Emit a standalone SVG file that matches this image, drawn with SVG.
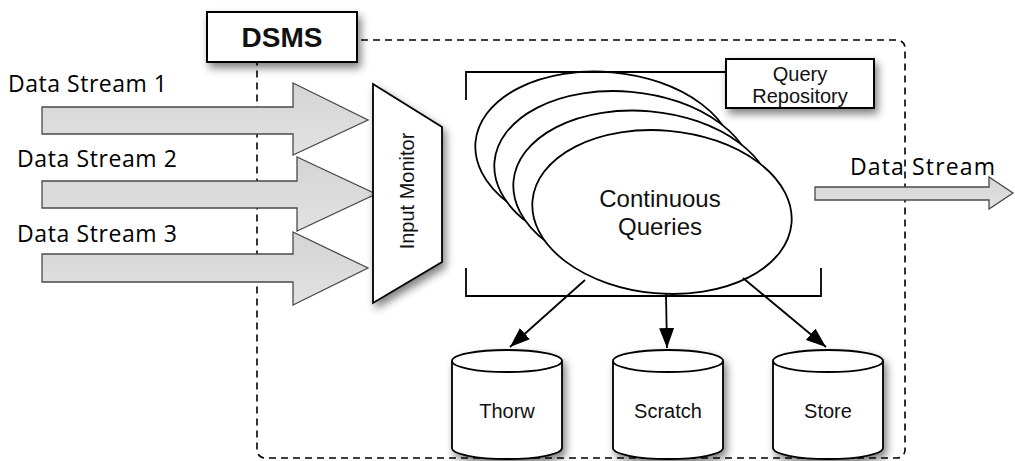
<svg xmlns="http://www.w3.org/2000/svg" width="1015" height="461" viewBox="0 0 1015 461">
  <defs>
    <style>
      .stream { fill: url(#streamFill); stroke: #4a4a4a; stroke-width: 1.3; stroke-linejoin: miter; }
      .slabel { font-family: "Open Sans", "Noto Sans", sans-serif; font-weight: 400; font-size: 23px; fill: #000; }
      .box { fill: #fff; stroke: #000; stroke-width: 2; }
      .shape { fill: #fff; stroke: #000; stroke-width: 1.8; }
      .label { font-family: "Liberation Sans", Arial, sans-serif; fill: #111; text-anchor: middle; }
      .edge { fill: none; stroke: #000; stroke-width: 1.8; marker-end: url(#head); }
      .bracket { fill: none; stroke: #000; stroke-width: 1.8; }
    </style>
    <linearGradient id="streamFill" x1="0" y1="0" x2="0" y2="1">
      <stop offset="0" stop-color="#d4d4d4"/>
      <stop offset="1" stop-color="#e2e2e2"/>
    </linearGradient>
    <marker id="head" viewBox="0 0 20 15" refX="20" refY="7.5" markerWidth="20" markerHeight="15" markerUnits="userSpaceOnUse" orient="auto">
      <path d="M0,0 L20,7.5 L0,15 Z" fill="#000"/>
    </marker>
    <filter id="shadow" x="-25%" y="-25%" width="160%" height="160%">
      <feGaussianBlur in="SourceAlpha" stdDeviation="4"/>
      <feOffset dx="3" dy="5" result="b"/>
      <feComponentTransfer><feFuncA type="linear" slope="0.5"/></feComponentTransfer>
      <feMerge><feMergeNode/><feMergeNode in="SourceGraphic"/></feMerge>
    </filter>
  </defs>

  <rect width="1015" height="461" fill="#fff"/>

  <!-- system boundary -->
  <rect id="boundary" x="257" y="40" width="648" height="418" rx="8" fill="none" stroke="#000" stroke-width="1.6" stroke-dasharray="7,5"/>

  <!-- incoming streams -->
  <g id="stream1">
    <path class="stream" d="M42,107 L293,107 L293,83 L368,120 L293,155 L293,134 L42,134 Z"/>
    <text class="slabel" x="8" y="92" textLength="159" lengthAdjust="spacing">Data Stream 1</text>
  </g>
  <g id="stream2">
    <path class="stream" d="M42,181 L297,181 L297,157 L376,194 L297,231 L297,208 L42,208 Z"/>
    <text class="slabel" x="17" y="167" textLength="160" lengthAdjust="spacing">Data Stream 2</text>
  </g>
  <g id="stream3">
    <path class="stream" d="M42,254 L293,254 L293,232 L368,268 L293,305 L293,282 L42,282 Z"/>
    <text class="slabel" x="17" y="242" textLength="160" lengthAdjust="spacing">Data Stream 3</text>
  </g>

  <!-- outgoing stream -->
  <g id="stream-out">
    <path class="stream" d="M815,187 L989,187 L989,177 L1013,193 L989,209 L989,200 L815,200 Z"/>
    <text class="slabel" x="850" y="175" textLength="145" lengthAdjust="spacing">Data Stream</text>
  </g>

  <!-- DSMS title -->
  <g id="dsms">
    <rect class="box" x="207" y="12" width="150" height="50" filter="url(#shadow)"/>
    <text class="label" x="282" y="47" font-size="28" font-weight="bold">DSMS</text>
  </g>

  <!-- input monitor -->
  <g id="input-monitor">
    <path class="shape" d="M373,84 L442,127 L442,262 L373,303 Z" filter="url(#shadow)"/>
    <text class="label" font-size="20" transform="translate(414,191) rotate(-90)">Input Monitor</text>
  </g>

  <!-- query repository -->
  <g id="query-repository">
    <g id="queries">
      <ellipse class="shape" cx="605" cy="153.5" rx="130" ry="81.5" transform="rotate(5 605 153.5)"/>
      <ellipse class="shape" cx="624" cy="173" rx="130" ry="81.5" transform="rotate(5 624 173)"/>
      <ellipse class="shape" cx="643" cy="192.5" rx="130" ry="81.5" transform="rotate(5 643 192.5)"/>
      <ellipse class="shape" cx="662" cy="212" rx="130" ry="81.5" transform="rotate(5 662 212)"/>
      <text class="label" x="660" y="207" font-size="24">Continuous</text>
      <text class="label" x="660" y="235" font-size="24">Queries</text>
    </g>
    <path class="bracket" d="M466,100 L466,72 L730,72 M466,268 L466,296 L821,296 L821,268"/>
    <rect class="box" x="726" y="59" width="148" height="49" filter="url(#shadow)"/>
    <text class="label" x="800" y="81" font-size="20">Query</text>
    <text class="label" x="800" y="103" font-size="20">Repository</text>
  </g>

  <!-- stores -->
  <g id="thorw">
    <path class="shape" d="M452,361 A55,11 0 0 1 562,361 L562,448 A55,11 0 0 1 452,448 Z" filter="url(#shadow)"/>
    <path class="shape" fill="none" d="M452,361 A55,11 0 0 0 562,361"/>
    <text class="label" x="507" y="418" font-size="20">Thorw</text>
  </g>
  <g id="scratch">
    <path class="shape" d="M613,361 A55,11 0 0 1 723,361 L723,448 A55,11 0 0 1 613,448 Z" filter="url(#shadow)"/>
    <path class="shape" fill="none" d="M613,361 A55,11 0 0 0 723,361"/>
    <text class="label" x="668" y="418" font-size="20">Scratch</text>
  </g>
  <g id="store">
    <path class="shape" d="M773,361 A55,11 0 0 1 883,361 L883,448 A55,11 0 0 1 773,448 Z" filter="url(#shadow)"/>
    <path class="shape" fill="none" d="M773,361 A55,11 0 0 0 883,361"/>
    <text class="label" x="828" y="418" font-size="20">Store</text>
  </g>

  <!-- connectors -->
  <g id="connectors">
    <line class="edge" x1="585" y1="280" x2="510" y2="347"/>
    <line class="edge" x1="666" y1="294" x2="667" y2="348"/>
    <line class="edge" x1="743" y1="278" x2="826" y2="347"/>
  </g>
</svg>
